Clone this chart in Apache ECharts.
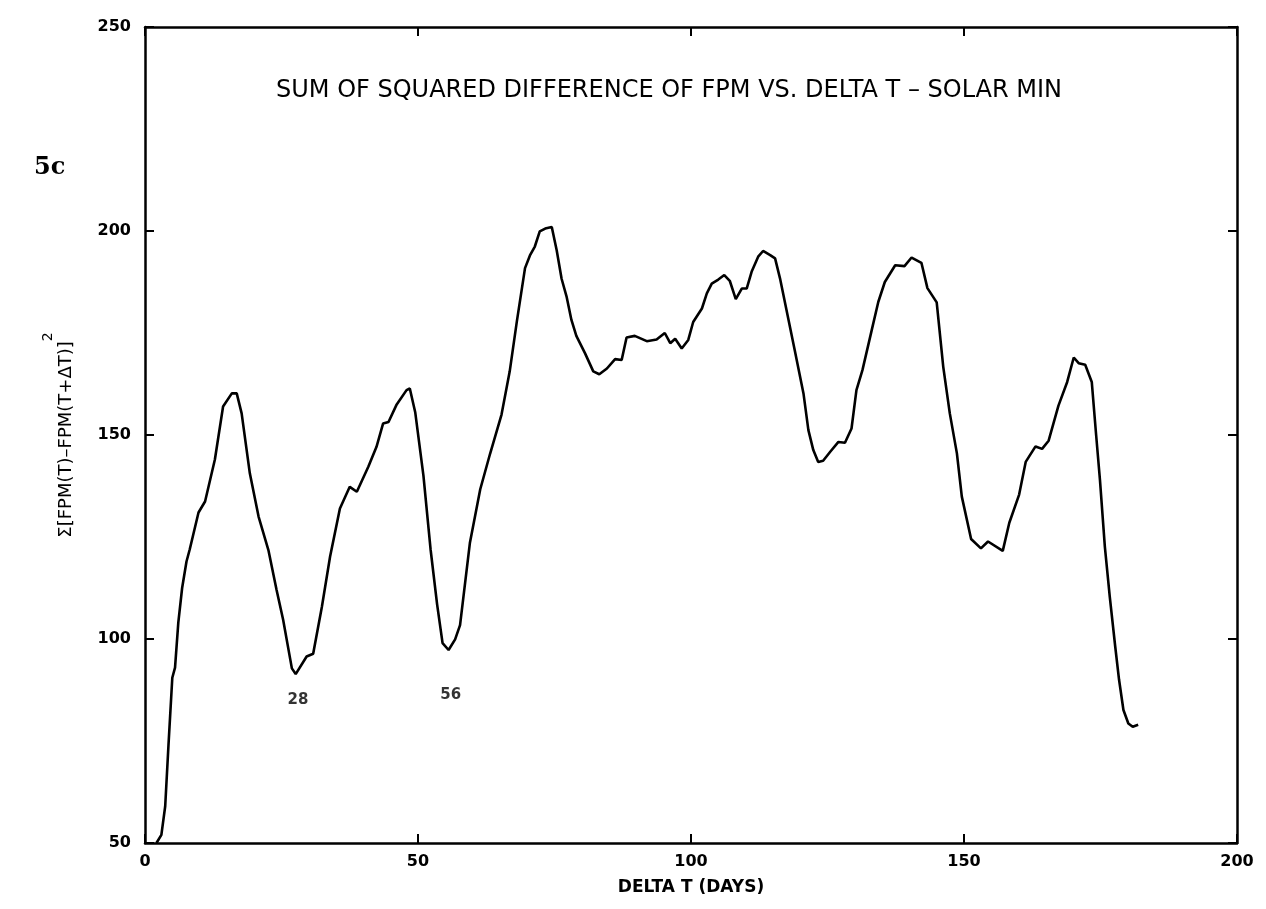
<!DOCTYPE html>
<html>
<head>
<meta charset="utf-8">
<title>Sum of squared difference of FPM vs. delta T - solar min</title>
<script src="https://cdn.jsdelivr.net/npm/echarts@6/dist/echarts.min.js"></script>
<style>
  html, body { margin: 0; padding: 0; background: #fff; }
  #chart { width: 1266px; height: 909px; }
</style>
</head>
<body>
<div id="chart"></div>
<script>
// delta T in days
var days = [
  2.1, 3.0, 3.7, 4.3, 5.0, 5.5, 6.1, 6.8, 7.6, 8.2, 9.8, 11.0, 12.8, 14.3, 15.9, 16.8,
  17.7, 19.2, 20.8, 22.6, 24.1, 25.3, 26.9, 27.6, 29.6, 30.8, 32.4, 33.9, 35.7, 37.5,
  38.8, 40.9, 42.4, 43.6, 44.6, 46.1, 47.9, 48.5, 49.5, 51.0, 52.3, 53.5, 54.5, 55.6,
  56.8, 57.7, 59.5, 61.4, 63.2, 65.3, 66.8, 68.1, 69.6, 70.5, 71.4, 72.3, 73.3, 74.5,
  75.4, 76.3, 77.2, 78.1, 79.0, 80.6, 82.1, 83.2, 84.6, 86.1, 87.3, 88.2, 89.7, 91.9,
  93.7, 95.2, 96.2, 97.1, 98.3, 99.5, 100.4, 102.0, 102.9, 103.8, 105.0, 106.1, 107.1,
  108.2, 109.3, 110.2, 111.1, 112.3, 113.2, 114.5, 115.4, 116.3, 117.5, 119.0, 120.6,
  121.5, 122.4, 123.3, 124.2, 125.5, 127.0, 128.2, 129.4, 130.3, 131.4, 133.1, 134.3,
  135.5, 137.4, 139.1, 140.4, 142.2, 143.3, 145.0, 146.2, 147.4, 148.7, 149.6, 151.3,
  153.1, 154.4, 157.1, 158.3, 160.1, 161.3, 163.1, 164.3, 165.5, 167.3, 168.9, 170.1,
  171.0, 172.2, 173.4, 174.2, 174.9, 175.8, 176.7, 177.7, 178.4, 179.2, 180.1, 180.9, 181.9
];

// sum of squared difference values
var sums = [
  50, 52, 59, 74, 90.5, 93, 104, 112.5, 119, 122, 131, 133.7, 144, 157, 160.2, 160.2,
  155.3, 140.6, 130, 121.8, 112, 104.7, 92.8, 91.4, 95.7, 96.4, 107.9, 120.2, 132, 137.3,
  136.1, 142.2, 147.1, 152.8, 153.2, 157.5, 161, 161.4, 155.5, 140, 122, 108.5, 99, 97.3,
  99.9, 103.4, 123.5, 136.7, 145.4, 155, 165.6, 177.8, 190.9, 194, 196.2, 199.9, 200.6, 201,
  195.3, 188.3, 184, 178.2, 174.3, 170, 165.6, 164.9, 166.3, 168.6, 168.4, 173.9, 174.3, 173,
  173.4, 175, 172.5, 173.6, 171.2, 173.3, 177.7, 181, 184.7, 187.1, 188.1, 189.2, 187.8,
  183.3, 185.9, 185.9, 190, 193.7, 195.1, 194.1, 193.3, 188.4, 180.6, 170.8, 160.2,
  151.2, 146.3, 143.4, 143.7, 145.9, 148.3, 148.1, 151.6, 161, 165.9, 175.7, 182.6,
  187.5, 191.6, 191.4, 193.5, 192.2, 186, 182.5, 166.7, 155.3, 145.5, 134.9, 124.5,
  122.2, 123.9, 121.6, 128.5, 135.4, 143.4, 147.2, 146.6, 148.6, 157.2, 163, 169,
  167.6, 167.2, 163, 150, 139, 122.6, 110.3, 98.1, 90, 82.6, 79.3, 78.5, 79
];

// minima annotations (day, y position of the label)
var minDays = [28, 56];
var minLabelY = [85, 86.3];

var xTicks = [0, 50, 100, 150, 200];
var yTicks = [50, 100, 150, 200, 250];

var chart = echarts.init(document.getElementById('chart'));

var lineData = [];
for (var i = 0; i < days.length; i++) {
    lineData.push([days[i], sums[i]]);
}
var minData = [];
for (var j = 0; j < minDays.length; j++) {
    minData.push([minDays[j], minLabelY[j]]);
}

var font = 'DejaVu Sans';
var axisLine = { show: true, onZero: false, lineStyle: { color: '#000', width: 2.5 } };
var tick = { show: true, inside: true, length: 9, lineStyle: { color: '#000', width: 2 } };
var tickLabel = { color: '#000', fontFamily: font, fontWeight: 'bold', fontSize: 16 };

var option = {
    backgroundColor: '#fff',
    animation: false,
    grid: { left: 145, right: 29, top: 27, bottom: 66 },
    title: {
        text: 'SUM OF SQUARED DIFFERENCE OF FPM VS. DELTA T – SOLAR MIN',
        left: 271,
        top: 74,
        textStyle: { color: '#000', fontFamily: font, fontWeight: 'normal', fontSize: 24 }
    },
    graphic: [{
        type: 'text',
        left: 34,
        top: 156,
        style: { text: '5c', fill: '#000', font: 'bold 24px "DejaVu Serif"' }
    }],
    xAxis: [{
        type: 'value',
        position: 'bottom',
        min: xTicks[0],
        max: xTicks[xTicks.length - 1],
        interval: 50,
        axisLine: axisLine,
        axisTick: tick,
        axisLabel: Object.assign({ margin: 11 }, tickLabel),
        splitLine: { show: false },
        name: 'DELTA T (DAYS)',
        nameLocation: 'middle',
        nameGap: 36,
        nameTextStyle: { color: '#000', fontFamily: font, fontWeight: 'bold', fontSize: 17 }
    }, {
        type: 'value',
        position: 'top',
        min: xTicks[0],
        max: xTicks[xTicks.length - 1],
        interval: 50,
        axisLine: axisLine,
        axisTick: tick,
        axisLabel: { show: false },
        splitLine: { show: false }
    }],
    yAxis: [{
        type: 'value',
        position: 'left',
        min: yTicks[0],
        max: yTicks[yTicks.length - 1],
        interval: 50,
        axisLine: axisLine,
        axisTick: tick,
        axisLabel: Object.assign({ margin: 14 }, tickLabel),
        splitLine: { show: false },
        name: '{m|Σ[FPM(T)–FPM(T+ΔT)]}{s|2}',
        nameLocation: 'middle',
        nameGap: 70,
        nameTextStyle: {
            rich: {
                m: { color: '#000', fontFamily: font, fontSize: 18, lineHeight: 34, verticalAlign: 'bottom' },
                s: { color: '#000', fontFamily: font, fontSize: 14, lineHeight: 34, verticalAlign: 'top' }
            }
        }
    }, {
        type: 'value',
        position: 'right',
        min: yTicks[0],
        max: yTicks[yTicks.length - 1],
        interval: 50,
        axisLine: axisLine,
        axisTick: tick,
        axisLabel: { show: false },
        splitLine: { show: false }
    }],
    series: [{
        type: 'line',
        data: lineData,
        showSymbol: false,
        smooth: false,
        lineStyle: { color: '#000', width: 2.6 },
        z: 3
    }, {
        type: 'scatter',
        data: minData,
        symbolSize: 0,
        label: {
            show: true,
            position: 'inside',
            formatter: function (p) { return p.value[0]; },
            color: '#000',
            textBorderWidth: 0,
            fontFamily: font,
            fontWeight: 'bold',
            fontSize: 15
        }
    }]
};

chart.setOption(option);
</script>
</body>
</html>
